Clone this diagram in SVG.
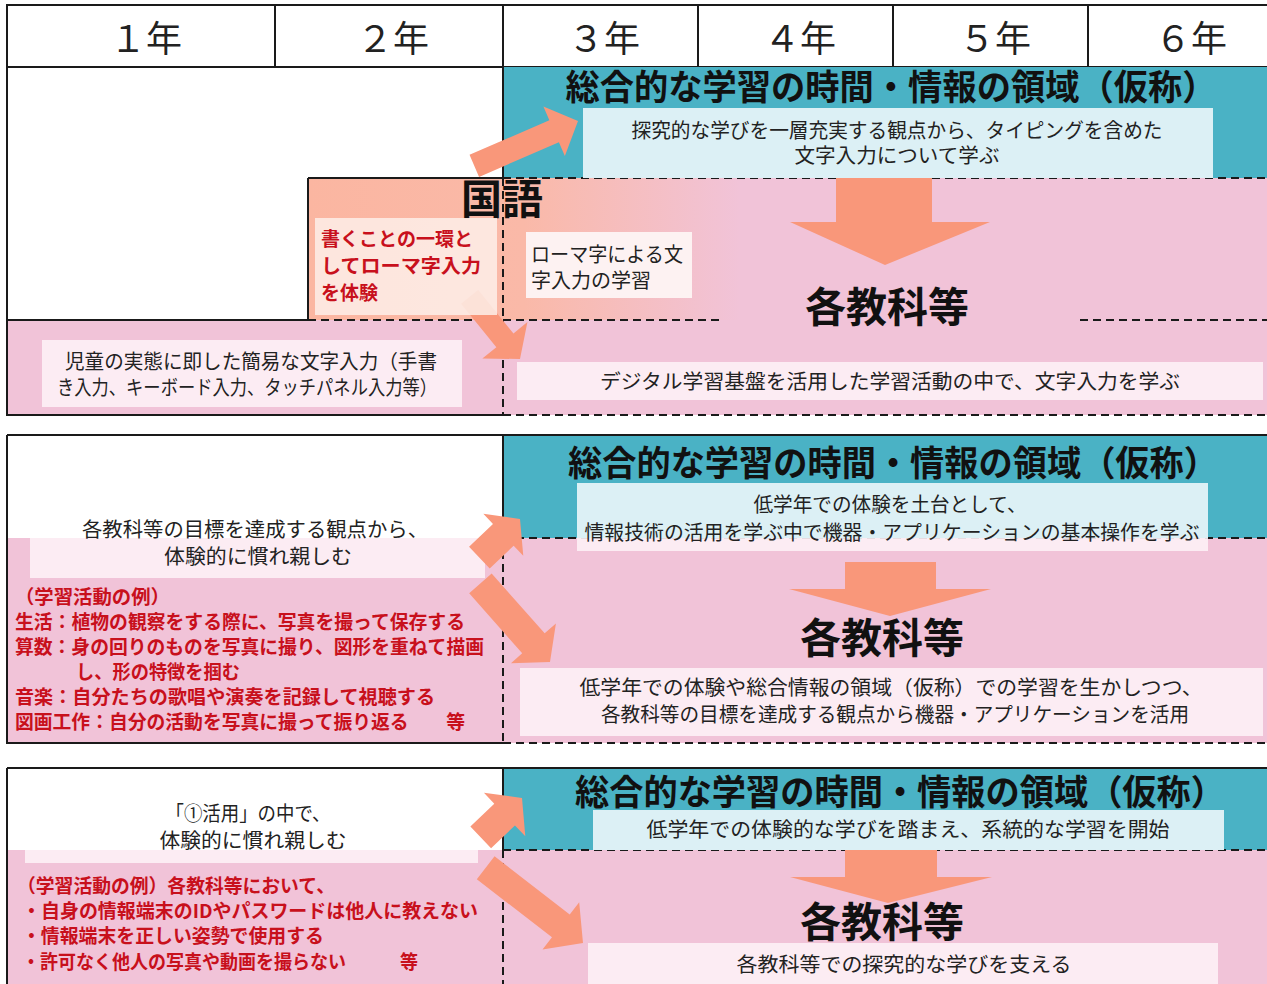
<svg xmlns="http://www.w3.org/2000/svg" width="1267" height="984" viewBox="0 0 1267 984">
<defs>
<style>
text{font-family:"Noto Sans CJK JP","Noto Sans",sans-serif;fill:#222}
.hd{font-size:36px;font-weight:400;text-anchor:middle}
.ti{font-size:35px;font-weight:700;text-anchor:middle;fill:#111}
.big{font-size:41px;font-weight:700;text-anchor:middle;fill:#111}
.bd{font-size:20px;font-weight:400}
.mid{text-anchor:middle}
.red{font-size:19px;font-weight:700;fill:#c8101c}
.solid{stroke:#1a1a1a;stroke-width:2;fill:none}
.dash{stroke:#1a1a1a;stroke-width:2;fill:none;stroke-dasharray:8 5}
.teal{fill:#4ab2c5}
.pink{fill:#f1c3d8}
.lb{fill:#dcf0f5}
.pb{fill:#fdf1f6;opacity:0.9}
.arr{fill:#f9977a}
</style>
<linearGradient id="kg" x1="308" y1="0" x2="740" y2="0" gradientUnits="userSpaceOnUse">
<stop offset="0" stop-color="#fbb6a1"/>
<stop offset="0.5" stop-color="#fab9a8"/>
<stop offset="1" stop-color="#f1c3d8"/>
</linearGradient>
</defs>
<rect width="1267" height="984" fill="#ffffff"/>

<!-- header -->
<g id="header">
<rect x="7" y="5" width="1270" height="62" fill="#fff" class="solid"/>
<path class="solid" d="M275 5V67M503 5V67M698 5V67M893 5V67M1088 5V67"/>
<text class="hd" x="146" y="52">１年</text>
<text class="hd" x="393" y="52">２年</text>
<text class="hd" x="604" y="52">３年</text>
<text class="hd" x="800" y="52">４年</text>
<text class="hd" x="995" y="52">５年</text>
<text class="hd" x="1191" y="52">６年</text>
</g>

<!-- section 1 backgrounds -->
<g id="s1-bg">
<rect class="teal" x="503" y="67" width="764" height="111"/>
<rect class="pink" x="503" y="178" width="764" height="237"/>
<rect class="pink" x="7" y="320" width="496" height="95"/>
<rect x="308" y="178" width="432" height="142" fill="url(#kg)"/>
</g>

<!-- section 2 backgrounds -->
<g id="s2-bg">
<rect class="teal" x="503" y="435" width="764" height="103"/>
<rect class="pink" x="7" y="538" width="1260" height="205"/>
</g>

<!-- section 3 backgrounds -->
<g id="s3-bg">
<rect class="teal" x="503" y="768" width="764" height="82"/>
<rect class="pink" x="7" y="850" width="1260" height="134"/>
</g>

<!-- lines -->
<g id="lines">
<path class="dash" d="M503 178H1267M503 178V415M308 320H720M1080 320H1267M503 415H1267"/>
<path class="solid" d="M7 67V415H503M503 67V178M308 178H503M308 178V320M7 320H308"/>
<path class="dash" d="M503 538V743M503 538H1267M503 743H1267"/>
<path class="solid" d="M7 435H1267M7 435V743H503M503 435V538"/>
<path class="dash" d="M503 850V984M503 850H1267"/>
<path class="solid" d="M7 768H1267M7 768V984M503 768V850"/>
</g>

<!-- faint arrow under kokugo box -->
<g id="connectors-under">
<polygon class="arr" transform="translate(520,359) rotate(51)" points="-80,-11 -24,-11 -24,-29 0,0 -24,29 -24,11 -80,11"/>
</g>

<!-- section 1 nodes -->
<g id="s1-sogo">
<text class="ti" x="891" y="100" textLength="651" lengthAdjust="spacingAndGlyphs">総合的な学習の時間・情報の領域（仮称）</text>
<rect class="lb" x="583" y="108" width="630" height="70"/>
<text class="bd mid" x="897" y="138" textLength="531" lengthAdjust="spacingAndGlyphs">探究的な学びを一層充実する観点から、タイピングを含めた</text>
<text class="bd mid" x="897" y="163" textLength="205" lengthAdjust="spacingAndGlyphs">文字入力について学ぶ</text>
</g>
<g id="s1-kokugo">
<text class="big" x="502" y="214" font-size="40">国語</text>
<rect x="315" y="218" width="182" height="97" fill="#fdeee9" opacity="0.85"/>
<text class="red" x="321" y="246" textLength="152" lengthAdjust="spacingAndGlyphs">書くことの一環と</text>
<text class="red" x="321" y="273" textLength="160" lengthAdjust="spacingAndGlyphs">してローマ字入力</text>
<text class="red" x="321" y="300">を体験</text>
<rect x="526" y="232" width="166" height="66" fill="#fdf2f2"/>
<text class="bd" x="531" y="262" textLength="152" lengthAdjust="spacingAndGlyphs">ローマ字による文</text>
<text class="bd" x="531" y="288">字入力の学習</text>
</g>
<g id="s1-kakukyoka">
<text class="big" x="887" y="322">各教科等</text>
<rect class="pb" x="517" y="362" width="746" height="38"/>
<text class="bd mid" x="890" y="389" textLength="580" lengthAdjust="spacingAndGlyphs">デジタル学習基盤を活用した学習活動の中で、文字入力を学ぶ</text>
</g>
<g id="s1-low">
<rect class="pb" x="42" y="340" width="420" height="67"/>
<text class="bd mid" x="251" y="369" textLength="372" lengthAdjust="spacingAndGlyphs">児童の実態に即した簡易な文字入力（手書</text>
<text class="bd mid" x="247" y="395" textLength="380" lengthAdjust="spacingAndGlyphs">き入力、キーボード入力、タッチパネル入力等）</text>
</g>

<!-- section 2 nodes -->
<g id="s2-sogo">
<text class="ti" x="893" y="476" textLength="650" lengthAdjust="spacingAndGlyphs">総合的な学習の時間・情報の領域（仮称）</text>
<rect class="lb" x="577" y="483" width="631" height="55"/>
<rect class="pb" x="577" y="538" width="631" height="13"/>
<text class="bd mid" x="890" y="512" textLength="273" lengthAdjust="spacingAndGlyphs">低学年での体験を土台として、</text>
<text class="bd mid" x="892" y="540" textLength="615" lengthAdjust="spacingAndGlyphs">情報技術の活用を学ぶ中で機器・アプリケーションの基本操作を学ぶ</text>
</g>
<g id="s2-low">
<rect class="pb" x="30" y="538" width="455" height="40"/>
<text class="bd mid" x="255" y="537" textLength="346" lengthAdjust="spacingAndGlyphs">各教科等の目標を達成する観点から、</text>
<text class="bd mid" x="258" y="564" textLength="188" lengthAdjust="spacingAndGlyphs">体験的に慣れ親しむ</text>
<text class="red" x="15" y="604" textLength="155" lengthAdjust="spacingAndGlyphs">（学習活動の例）</text>
<text class="red" x="15" y="629" textLength="450" lengthAdjust="spacingAndGlyphs">生活：植物の観察をする際に、写真を撮って保存する</text>
<text class="red" x="15" y="654" textLength="469" lengthAdjust="spacingAndGlyphs">算数：身の回りのものを写真に撮り、図形を重ねて描画</text>
<text class="red" x="76" y="679" textLength="164" lengthAdjust="spacingAndGlyphs">し、形の特徴を掴む</text>
<text class="red" x="15" y="704" textLength="420" lengthAdjust="spacingAndGlyphs">音楽：自分たちの歌唱や演奏を記録して視聴する</text>
<text class="red" x="15" y="729" textLength="450" lengthAdjust="spacingAndGlyphs">図画工作：自分の活動を写真に撮って振り返る　　等</text>
</g>
<g id="s2-kakukyoka">
<text class="big" x="882" y="653">各教科等</text>
<rect class="pb" x="520" y="668" width="743" height="68"/>
<text class="bd mid" x="891" y="695" textLength="623" lengthAdjust="spacingAndGlyphs">低学年での体験や総合情報の領域（仮称）での学習を生かしつつ、</text>
<text class="bd mid" x="895" y="722" textLength="588" lengthAdjust="spacingAndGlyphs">各教科等の目標を達成する観点から機器・アプリケーションを活用</text>
</g>

<!-- section 3 nodes -->
<g id="s3-sogo">
<text class="ti" x="900" y="805" textLength="650" lengthAdjust="spacingAndGlyphs">総合的な学習の時間・情報の領域（仮称）</text>
<rect class="lb" x="593" y="810" width="631" height="40"/>
<text class="bd mid" x="908" y="837" textLength="523" lengthAdjust="spacingAndGlyphs">低学年での体験的な学びを踏まえ、系統的な学習を開始</text>
</g>
<g id="s3-low">
<rect class="pb" x="25" y="850" width="453" height="13"/>
<text class="bd mid" x="248" y="821" textLength="165" lengthAdjust="spacingAndGlyphs">「①活用」の中で、</text>
<text class="bd mid" x="253" y="848" textLength="187" lengthAdjust="spacingAndGlyphs">体験的に慣れ親しむ</text>
<text class="red" x="17" y="893" textLength="318" lengthAdjust="spacingAndGlyphs">（学習活動の例）各教科等において、</text>
<text class="red" x="22" y="918" textLength="456" lengthAdjust="spacingAndGlyphs">・自身の情報端末のIDやパスワードは他人に教えない</text>
<text class="red" x="22" y="943" textLength="302" lengthAdjust="spacingAndGlyphs">・情報端末を正しい姿勢で使用する</text>
<text class="red" x="22" y="969" textLength="396" lengthAdjust="spacingAndGlyphs">・許可なく他人の写真や動画を撮らない　　　等</text>
</g>
<g id="s3-kakukyoka">
<text class="big" x="882" y="937">各教科等</text>
<rect class="pb" x="588" y="943" width="630" height="41"/>
<text class="bd mid" x="904" y="972" textLength="335" lengthAdjust="spacingAndGlyphs">各教科等での探究的な学びを支える</text>
</g>

<!-- connectors -->
<g id="connectors">
<polygon class="arr" transform="translate(578,121) rotate(-23.4)" points="-113,-12 -26,-12 -26,-27 0,0 -26,27 -26,12 -113,12"/>
<polygon class="arr" points="836,178 932,178 932,222 990,222 885,265 790,222 836,222"/>
<polygon class="arr" transform="translate(520,519) rotate(-43.5)" points="-56,-15 -23,-15 -23,-29 0,0 -23,29 -23,15 -56,15"/>
<polygon class="arr" transform="translate(550,662) rotate(48.5)" points="-105,-15 -25,-15 -25,-30 0,0 -25,30 -25,15 -105,15"/>
<polygon class="arr" points="845,562 936,562 936,589 991,589 890,616 789,589 845,589"/>
<polygon class="arr" transform="translate(522,798) rotate(-43.6)" points="-57,-15 -24,-15 -24,-30 0,0 -24,30 -24,15 -57,15"/>
<polygon class="arr" transform="translate(583,943) rotate(37.7)" points="-123,-14.5 -28,-14.5 -28,-30 0,0 -28,30 -28,14.5 -123,14.5"/>
<polygon class="arr" points="845,850 937,850 937,877 992,877 888,903 790,877 845,877"/>
</g>
</svg>
